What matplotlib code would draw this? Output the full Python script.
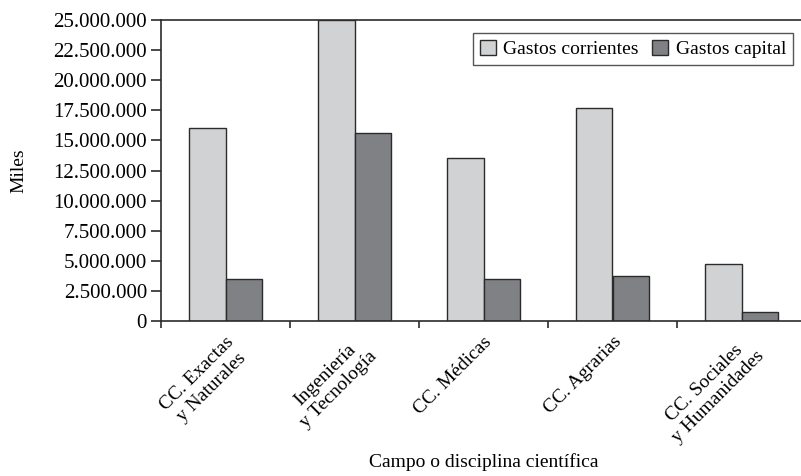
import numpy as np
import matplotlib
matplotlib.use("Agg")
import matplotlib.pyplot as plt
from matplotlib.ticker import FuncFormatter, FixedLocator

# datos (miles)
campos = ["CC. Exactas\ny Naturales", "Ingeniería\ny Tecnología", "CC. Médicas",
          "CC. Agrarias", "CC. Sociales\ny Humanidades"]
gastos_corrientes = [16000000, 25000000, 13500000, 17700000, 4700000]
gastos_capital = [3500000, 15600000, 3500000, 3750000, 720000]

plt.rcParams["font.family"] = ["Liberation Serif", "DejaVu Serif"]
fs = 14

fig = plt.figure(figsize=(8.01, 4.76), dpi=100)
ax = fig.add_axes([161 / 801, 1 - 321 / 476, 645 / 801, 301 / 476])

x = np.arange(len(campos)) + 0.5
w = 0.285
ax.bar(x - w / 2, gastos_corrientes, w, color="#d1d2d4", edgecolor="#2b2b2b",
       linewidth=1.0, label="Gastos corrientes")
ax.bar(x + w / 2, gastos_capital, w, color="#808185", edgecolor="#2b2b2b",
       linewidth=1.0, label="Gastos capital")

ax.set_xlim(0, len(campos))
ax.set_ylim(0, 25000000)
ax.set_yticks(np.arange(0, 25000001, 2500000))
ax.yaxis.set_major_formatter(FuncFormatter(lambda v, p: f"{int(v):,}".replace(",", ".")))

# ticks at category boundaries, labels at centers
ax.xaxis.set_major_locator(FixedLocator(np.arange(0, len(campos) + 1)))
ax.xaxis.set_minor_locator(FixedLocator(x))
ax.set_xticklabels([], minor=False)
ax.set_xticklabels(campos, minor=True, rotation=45, ha="right", rotation_mode="anchor",
                   multialignment="center", fontsize=fs)
ax.tick_params(axis="x", which="minor", length=0, pad=9)
ax.tick_params(axis="x", which="major", length=5, width=1.2, color="#2b2b2b")
ax.tick_params(axis="y", length=7, width=1.2, color="#2b2b2b", labelsize=15, pad=3)

for s in ["left", "bottom", "top"]:
    ax.spines[s].set_linewidth(1.2)
    ax.spines[s].set_color("#2b2b2b")
ax.spines["right"].set_visible(False)

ax.set_ylabel("Miles", fontsize=fs)
ax.yaxis.set_label_coords(-0.207, 0.5)
ax.set_xlabel("Campo o disciplina científica", fontsize=fs)
ax.xaxis.set_label_coords(0.5, -0.44)

leg = ax.legend(loc="upper right", bbox_to_anchor=((793 - 161) / 645, 1 - 13 / 301),
                ncol=2, fontsize=fs, frameon=True, fancybox=False, edgecolor="#2b2b2b",
                handlelength=0.8, handleheight=0.8, handletextpad=0.4, columnspacing=0.7,
                borderpad=0.35, borderaxespad=0)
leg.get_frame().set_linewidth(1.0)

fig.savefig("out.png", dpi=100)
